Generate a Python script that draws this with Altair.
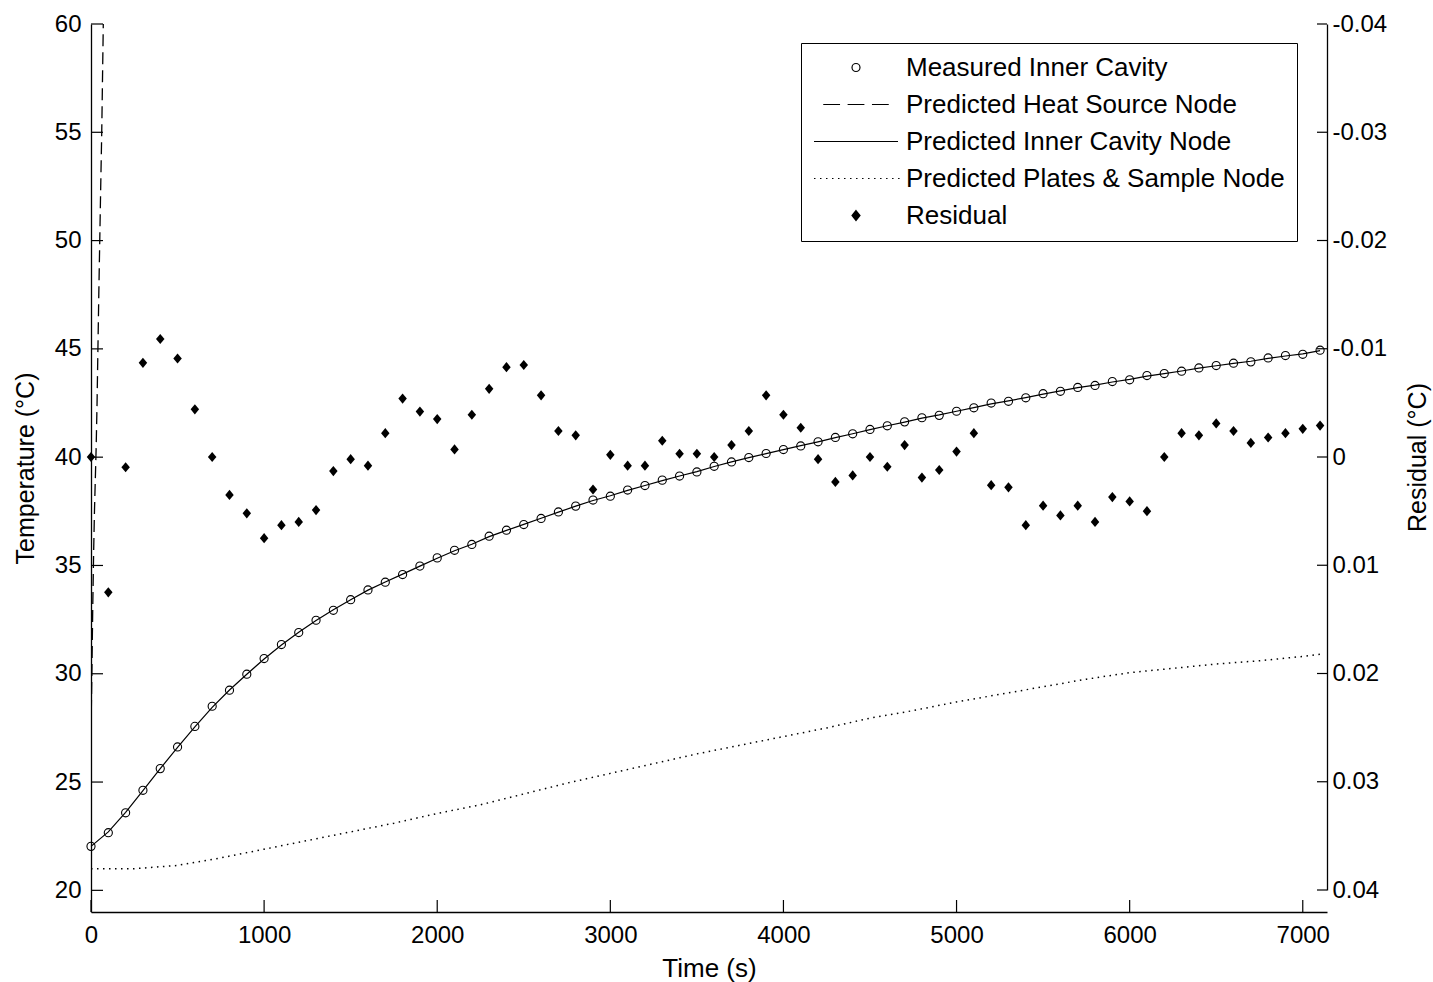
import altair as alt
import pandas as pd

# ---------------- data ----------------
time_s = list(range(0, 7101, 100))

measured_inner = [
    22.03, 22.66, 23.58, 24.62, 25.62, 26.62, 27.57, 28.50, 29.24, 29.98,
    30.70, 31.35, 31.90, 32.47, 32.93, 33.42, 33.87, 34.23, 34.58, 34.97,
    35.35, 35.70, 35.97, 36.35, 36.63, 36.89, 37.17, 37.47, 37.74, 38.02,
    38.20, 38.48, 38.69, 38.94, 39.13, 39.32, 39.58, 39.78, 39.98, 40.17,
    40.35, 40.52, 40.71, 40.91, 41.08, 41.28, 41.45, 41.63, 41.82, 41.93,
    42.12, 42.28, 42.50, 42.58, 42.74, 42.93, 43.04, 43.22, 43.31, 43.49,
    43.57, 43.77, 43.86, 43.97, 44.12, 44.23, 44.34, 44.40, 44.58, 44.69,
    44.75, 44.94,
]

predicted_inner = [
    22.03, 22.70, 23.60, 24.60, 25.62, 26.60, 27.55, 28.45, 29.25, 29.98,
    30.68, 31.33, 31.92, 32.46, 32.95, 33.42, 33.86, 34.24, 34.60, 34.97,
    35.33, 35.68, 35.98, 36.33, 36.62, 36.90, 37.18, 37.46, 37.74, 38.00,
    38.22, 38.47, 38.69, 38.92, 39.13, 39.33, 39.57, 39.78, 39.98, 40.16,
    40.35, 40.53, 40.71, 40.90, 41.08, 41.27, 41.45, 41.62, 41.80, 41.95,
    42.12, 42.29, 42.46, 42.60, 42.75, 42.91, 43.06, 43.21, 43.33, 43.47,
    43.59, 43.74, 43.86, 43.98, 44.11, 44.22, 44.33, 44.43, 44.56, 44.67,
    44.77, 44.92,
]

residual = [
    0.0, 0.0125, 0.00095, -0.0087, -0.0109, -0.0091, -0.0044, 0.0, 0.0035, 0.0052,
    0.0075, 0.0063, 0.0060, 0.0049, 0.0013, 0.0002, 0.0008, -0.0022, -0.0054, -0.0042,
    -0.0035, -0.0007, -0.0039, -0.0063, -0.0083, -0.0085, -0.0057, -0.0024, -0.0020, 0.0030,
    -0.0002, 0.0008, 0.0008, -0.0015, -0.0003, -0.0003, 0.0, -0.0011, -0.0024, -0.0057,
    -0.0039, -0.0027, 0.0002, 0.0023, 0.0017, 0.0, 0.0009, -0.0011, 0.0019, 0.0012,
    -0.0005, -0.0022, 0.0026, 0.0028, 0.0063, 0.0045, 0.0054, 0.0045, 0.0060, 0.0037,
    0.0041, 0.0050, 0.0, -0.0022, -0.0020, -0.0031, -0.0024, -0.0013, -0.0018, -0.0022,
    -0.0026, -0.0029,
]

heat_t = [0, 5, 10, 15, 20, 25, 30, 35, 45, 55, 62, 71, 80]
heat_T = [27.4, 30.0, 33.0, 35.5, 37.5, 39.0, 40.5, 42.5, 47.5, 52.0, 55.0, 60.0, 64.0]

plate_t = [0, 250, 500, 750, 1000, 1250, 1500, 1750, 2000, 2250, 2500, 2750, 3000,
           3250, 3500, 3750, 4000, 4250, 4500, 4750, 5000, 5250, 5500, 5750, 6000,
           6250, 6500, 6750, 7000, 7100]
plate_T = [21.0, 21.0, 21.15, 21.5, 21.9, 22.3, 22.7, 23.1, 23.55, 23.95, 24.45, 24.95, 25.4,
           25.85, 26.3, 26.7, 27.1, 27.5, 27.95, 28.3, 28.7, 29.05, 29.4, 29.75, 30.05,
           30.25, 30.45, 30.6, 30.8, 30.9]

series_names = [
    "Measured Inner Cavity",
    "Predicted Heat Source Node",
    "Predicted Inner Cavity Node",
    "Predicted Plates & Sample Node",
    "Residual",
]

time_ticks = [0, 1000, 2000, 3000, 4000, 5000, 6000, 7000]
temp_ticks = [20, 25, 30, 35, 40, 45, 50, 55, 60]
resid_ticks = [-0.04, -0.03, -0.02, -0.01, 0.0, 0.01, 0.02, 0.03, 0.04]

# ---------------- styling ----------------
F = "Liberation Sans"
FS = 24
W, H = 1236, 888
RH = 866  # pixel extent of residual axis

def _diamond(s):
    return "M0,-%.3fL%.3f,0L0,%.3fL-%.3f,0Z" % (s * 1.25, s, s * 1.25, s)

legend_shapes = [
    "M0.095,0A0.095,0.095 0 1,1 -0.095,0A0.095,0.095 0 1,1 0.095,0Z",
    "M-0.78,0H-0.38M-0.2,0H0.2M0.38,0H0.78",
    "M-1,0H1",
    "".join("M%.3f,0h0.035" % (-1 + i * 0.143) for i in range(15)),
    "".join(_diamond(s) for s in (0.095, 0.07, 0.047, 0.025, 0.008)),
]

df_meas = pd.DataFrame({"t": time_s, "temp": measured_inner})
df_pred = pd.DataFrame({"t": time_s, "temp": predicted_inner})
df_heat = pd.DataFrame({"t": heat_t, "temp": heat_T})
df_plate = pd.DataFrame({"t": plate_t, "temp": plate_T})
df_res = pd.DataFrame({"t": time_s, "residual": residual})
df_tt = pd.DataFrame({"t": time_ticks})
df_yt = pd.DataFrame({"temp": temp_ticks})
df_rt = pd.DataFrame({"residual": resid_ticks})
df_leg = pd.DataFrame({"series": series_names, "t": [None] * 5, "temp": [None] * 5})

x_axis = alt.Axis(
    values=time_ticks, format="d", title="Time (s)", ticks=False, grid=False,
    domainColor="black", domainWidth=1.3, labelFont=F, labelFontSize=FS,
    labelColor="black", labelPadding=11, labelFlush=False,
    titleFont=F, titleFontSize=26, titleFontWeight="normal", titleColor="black",
    titlePadding=8,
)
y_axis = alt.Axis(
    values=temp_ticks, format="d", title="Temperature (°C)", ticks=False, grid=False,
    domainColor="black", domainWidth=1.3, labelFont=F, labelFontSize=FS,
    labelColor="black", labelPadding=10, labelFlush=False,
    titleFont=F, titleFontSize=25, titleFontWeight="normal", titleColor="black",
    titlePadding=16,
)
r_axis = alt.Axis(
    orient="right", values=resid_ticks, title="Residual (°C)", ticks=False, grid=False,
    labelExpr="datum.value == 0 ? '0' : (datum.value < 0 ? '-' : '') + format(abs(datum.value), '.2f')",
    domainColor="black", domainWidth=1.3, labelFont=F, labelFontSize=FS,
    labelColor="black", labelPadding=5, labelFlush=False,
    titleFont=F, titleFontSize=25, titleFontWeight="normal", titleColor="black",
    titlePadding=44, titleAngle=270,
)

xs = alt.Scale(domain=[0, 7140], nice=False, zero=False)
ys = alt.Scale(domain=[19, 60], nice=False, zero=False)
rs = alt.Scale(domain=[-0.04, 0.04], range=[0, RH], nice=False, zero=False)

X = alt.X("t:Q", scale=xs, axis=x_axis)
Y = alt.Y("temp:Q", scale=ys, axis=y_axis)
R = alt.Y("residual:Q", scale=rs, axis=r_axis)

plate_line = alt.Chart(df_plate).mark_line(
    color="black", strokeWidth=1.5, strokeDash=[1.5, 4.5]
).encode(x=X, y=Y)

heat_line = alt.Chart(df_heat).mark_line(
    color="black", strokeWidth=1.3, strokeDash=[12, 6], clip=True
).encode(x=X, y=Y)

pred_line = alt.Chart(df_pred).mark_line(color="black", strokeWidth=1.2).encode(x=X, y=Y)

meas_pts = alt.Chart(df_meas).mark_point(
    shape="circle", filled=False, color="black", size=66, strokeWidth=1.1, opacity=1
).encode(x=X, y=Y)

left_ticks = alt.Chart(df_yt).mark_rule(color="black", strokeWidth=1.2).encode(
    y=Y, x=alt.value(0), x2=alt.value(12)
)
bottom_ticks = alt.Chart(df_tt).mark_rule(color="black", strokeWidth=1.2).encode(
    x=X, y=alt.value(H), y2=alt.value(H - 12)
)

legend_layer = alt.Chart(df_leg).mark_point(
    color="black", filled=False, strokeWidth=1.2, opacity=1
).encode(
    x=X, y=Y,
    shape=alt.Shape(
        "series:N",
        scale=alt.Scale(domain=series_names, range=legend_shapes),
        legend=alt.Legend(
            title=None, orient="none", legendX=710, legendY=19,
            labelFont=F, labelFontSize=26, labelColor="black", labelLimit=0,
            symbolSize=84 * 84, symbolStrokeWidth=1.2, symbolStrokeColor="black",
            symbolFillColor="transparent",
            symbolOffset=0, labelOffset=7, padding=12, rowPadding=10,
            clipHeight=25,
            strokeColor="black", fillColor="white", cornerRadius=0,
        ),
    ),
)

res_pts = alt.Chart(df_res).mark_point(
    shape="M0,-1.2L1,0L0,1.2L-1,0Z", filled=True, color="black", size=72, opacity=1
).encode(x=X, y=R)

right_ticks = alt.Chart(df_rt).mark_rule(color="black", strokeWidth=1.2).encode(
    y=R, x=alt.value(W - 10), x2=alt.value(W)
)

temp_group = alt.layer(plate_line, heat_line, pred_line, meas_pts, left_ticks, bottom_ticks, legend_layer)
res_group = alt.layer(res_pts, right_ticks)

chart = alt.layer(temp_group, res_group).resolve_scale(y="independent").properties(
    width=W, height=H,
    padding={"left": 91, "top": 24, "right": 106, "bottom": 70},
    autosize=alt.AutoSizeParams(type="none"),
    background="white",
).configure_view(stroke=None)

chart.save("out.html", embed_options={"renderer": "svg", "actions": False})
